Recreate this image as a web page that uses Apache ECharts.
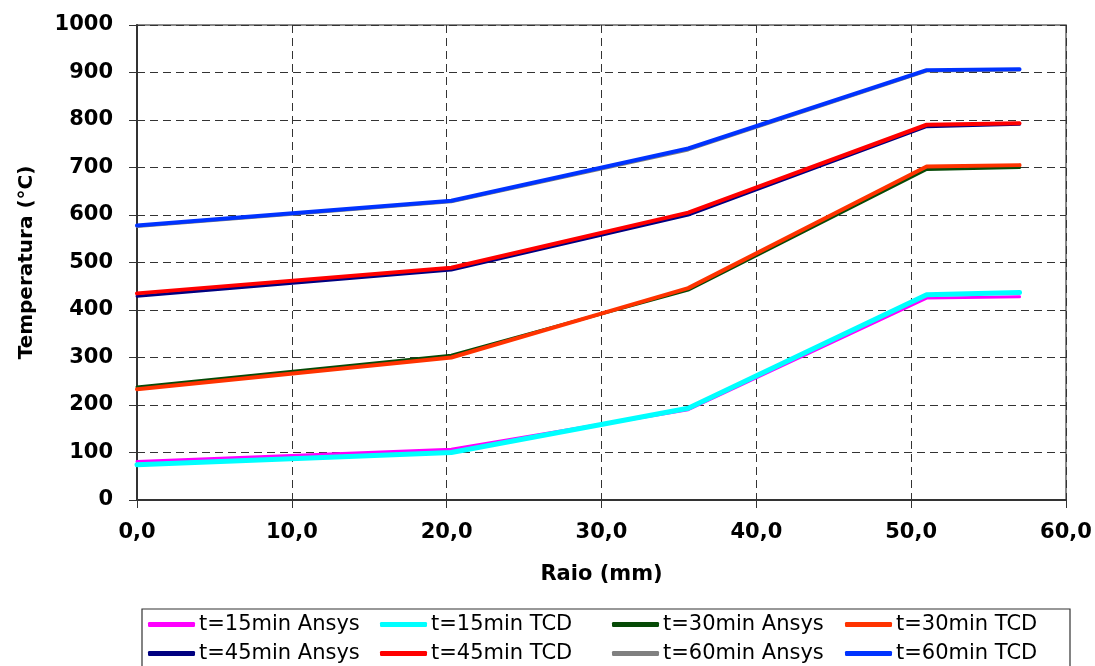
<!DOCTYPE html>
<html>
<head>
<meta charset="utf-8">
<script src="https://cdn.jsdelivr.net/npm/echarts@6/dist/echarts.min.js"></script>
<style>
html,body{margin:0;padding:0;background:#fff;}
#chart{width:1095px;height:666px;}
</style>
</head>
<body>
<div id="chart"></div>
<script>
// Radius positions (mm)
const raio = [0, 20.3, 35.6, 51.0, 57.0];

// Temperatures (°C)
const t15Ansys = [81, 107, 190, 425, 428];
const t15TCD   = [74, 100, 193, 432, 437];
const t30Ansys = [238, 305, 442, 696, 700];
const t30TCD   = [233, 300, 446, 702, 705];
const t45Ansys = [429, 484, 600, 786, 791];
const t45TCD   = [435, 489, 605, 790, 793];
const t60Ansys = [576, 628, 737, 903, 905];
const t60TCD   = [578, 630, 740, 905, 907];

const seriesNames = [
  't=15min Ansys', 't=15min TCD', 't=30min Ansys', 't=30min TCD',
  't=45min Ansys', 't=45min TCD', 't=60min Ansys', 't=60min TCD'
];
const seriesValues = [t15Ansys, t15TCD, t30Ansys, t30TCD, t45Ansys, t45TCD, t60Ansys, t60TCD];
const seriesColors = ['#FF00FF', '#00FFFF', '#064a06', '#FF3300', '#000080', '#FF0000', '#808080', '#0033FF'];
const seriesWidths = [3, 5, 3, 4, 3, 4, 3, 4];

const xTicks = { min: 0, max: 60, interval: 10 };
const yTicks = { min: 0, max: 1000, interval: 100 };

const chart = echarts.init(document.getElementById('chart'), null, { renderer: 'canvas' });

const series = seriesNames.map((name, i) => ({
  name: name,
  type: 'line',
  showSymbol: false,
  symbol: 'none',
  data: raio.map((x, j) => [x, seriesValues[i][j]]),
  lineStyle: { color: seriesColors[i], width: seriesWidths[i], cap: 'round', join: 'round' },
  itemStyle: { color: seriesColors[i] },
  emphasis: { disabled: true },
  z: 2 + i
}));

const legendCols = [148, 380, 612, 845];
const legends = legendCols.map((left, c) => ({
  orient: 'vertical',
  left: left,
  top: 614,
  data: [seriesNames[c], seriesNames[c + 4]],
  icon: 'roundRect',
  itemWidth: 47,
  itemHeight: 5,
  itemGap: 8,
  selectedMode: false,
  textStyle: { fontFamily: 'DejaVu Sans', fontSize: 21, color: '#000', lineHeight: 21, padding: [0, 0, 0, -1] },
  padding: 0
}));

const font = 'DejaVu Sans';

chart.setOption({
  animation: false,
  backgroundColor: '#fff',
  grid: {
    left: 137, right: 29, top: 25, bottom: 166,
    show: true, borderColor: '#666', borderWidth: 1.5, backgroundColor: '#fff'
  },
  legend: legends,
  graphic: [{
    type: 'rect',
    shape: { x: 142, y: 609, width: 928, height: 80 },
    style: { fill: 'none', stroke: '#333', lineWidth: 1.2 },
    silent: true
  }],
  xAxis: {
    type: 'value',
    min: xTicks.min, max: xTicks.max, interval: xTicks.interval,
    name: 'Raio (mm)',
    nameLocation: 'middle',
    nameGap: 64,
    nameTextStyle: { fontFamily: font, fontWeight: 'bold', fontSize: 21, color: '#000' },
    axisLine: { show: true, onZero: false, lineStyle: { color: '#333', width: 2 } },
    axisTick: { show: true, length: 8, lineStyle: { color: '#333', width: 1 } },
    axisLabel: {
      margin: 22, fontFamily: font, fontWeight: 'bold', fontSize: 21, color: '#000',
      formatter: v => v.toFixed(1).replace('.', ',')
    },
    splitLine: { show: true, lineStyle: { color: '#333', type: [8, 5], width: 1 } }
  },
  yAxis: {
    type: 'value',
    min: yTicks.min, max: yTicks.max, interval: yTicks.interval,
    name: 'Temperatura (°C)',
    nameLocation: 'middle',
    nameGap: 100,
    nameTextStyle: { fontFamily: font, fontWeight: 'bold', fontSize: 20, color: '#000' },
    axisLine: { show: true, onZero: false, lineStyle: { color: '#333', width: 2 } },
    axisTick: { show: true, length: 8, lineStyle: { color: '#333', width: 1 } },
    axisLabel: {
      margin: 24, fontFamily: font, fontWeight: 'bold', fontSize: 21, color: '#000',
      formatter: v => String(v)
    },
    splitLine: { show: true, lineStyle: { color: '#333', type: [8, 5], width: 1 } }
  },
  series: series
});
</script>
</body>
</html>
